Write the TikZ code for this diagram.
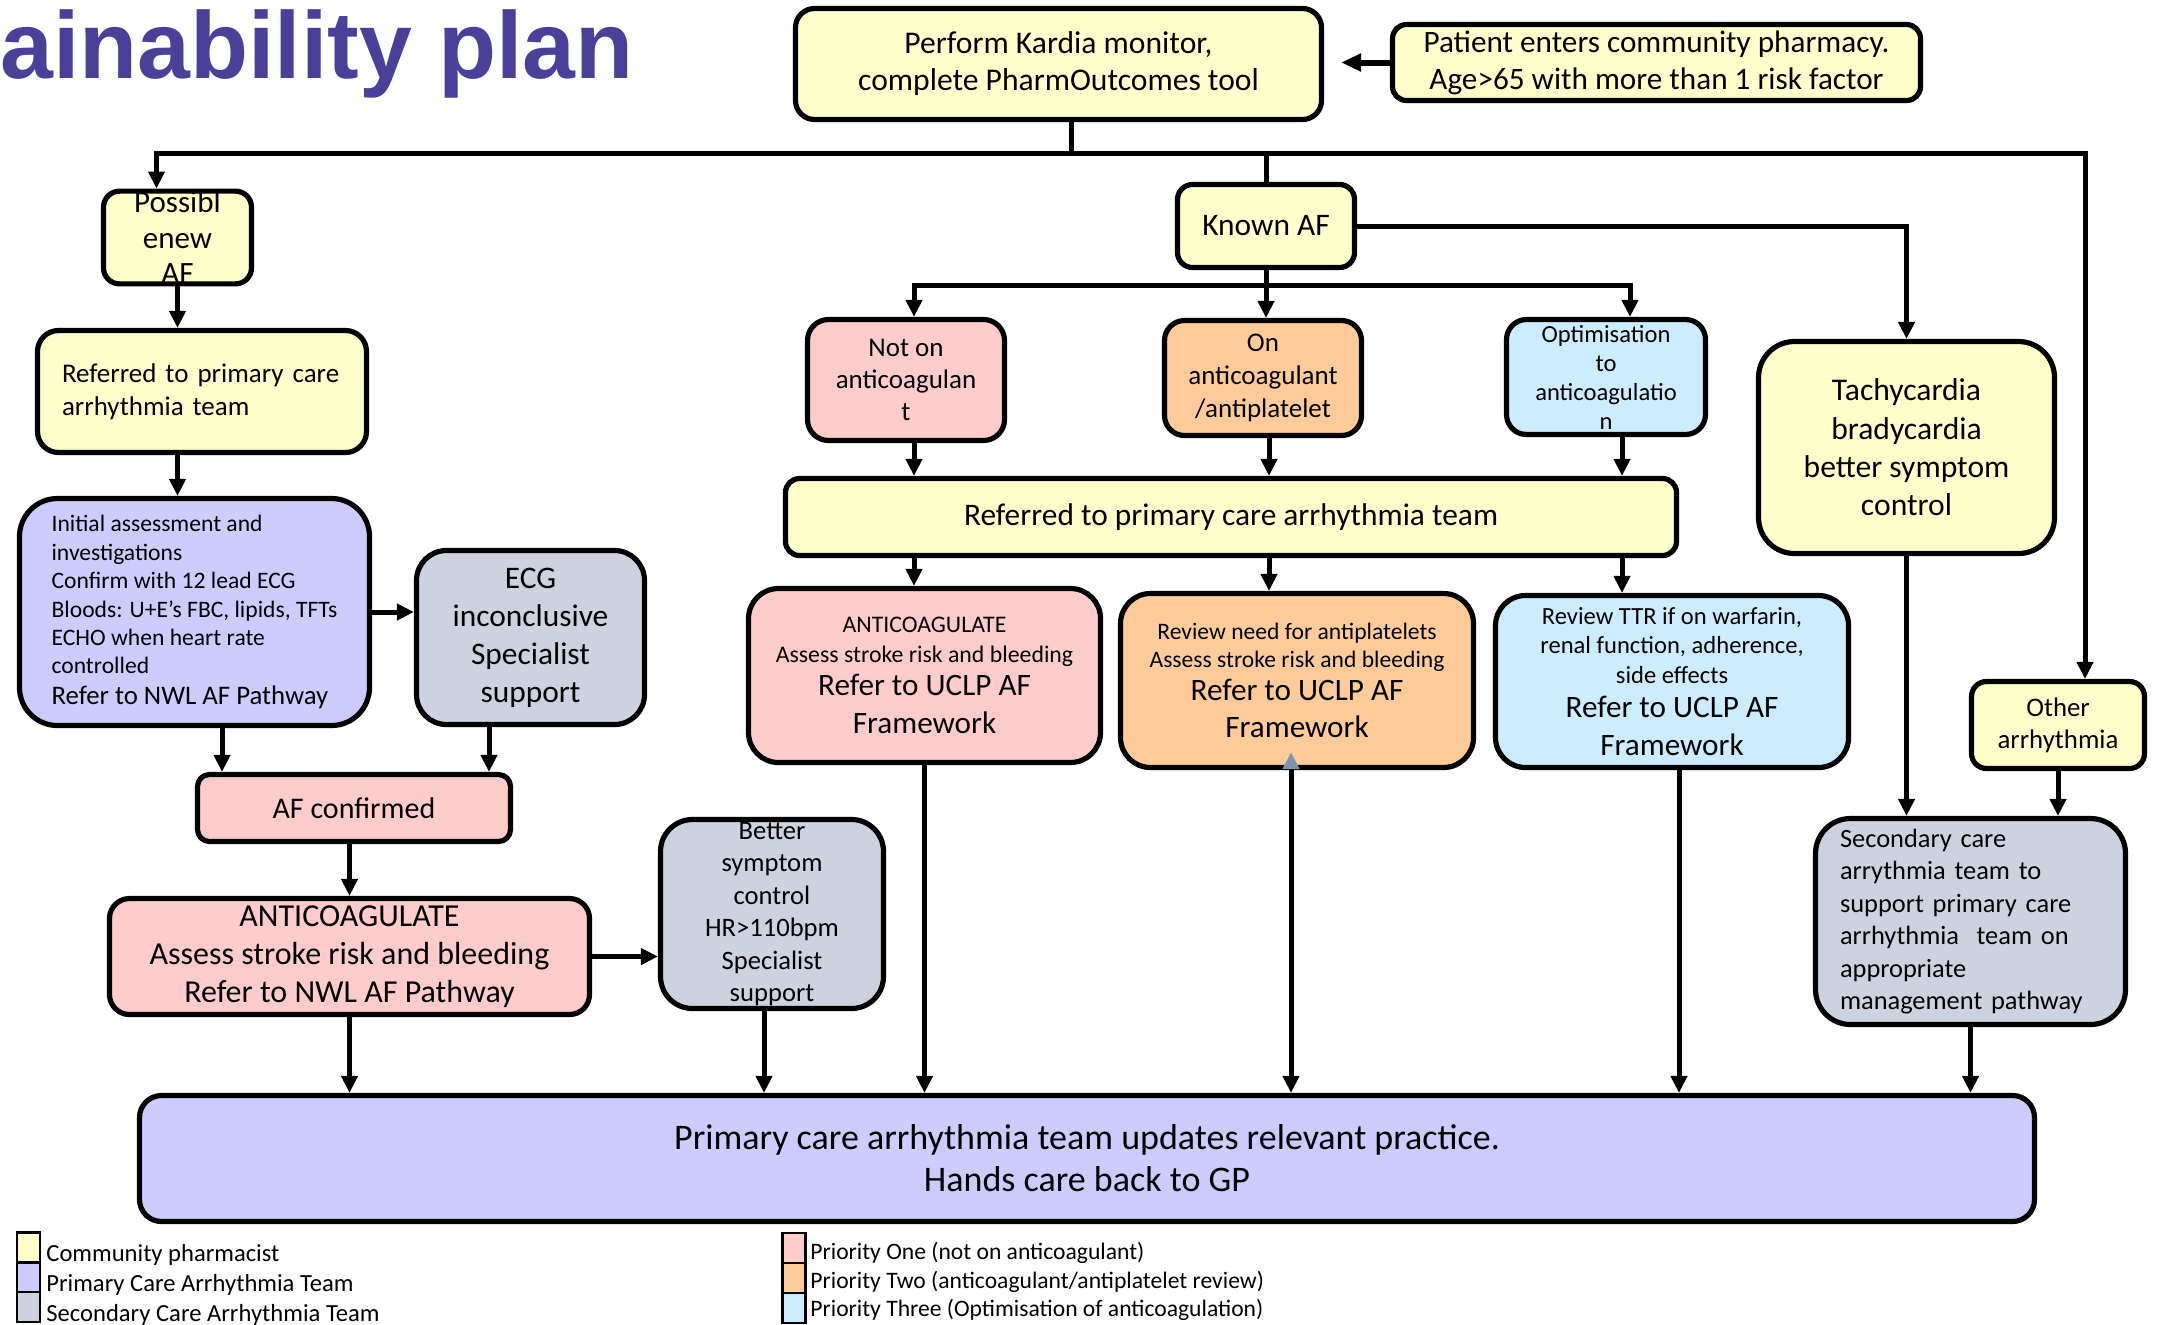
\documentclass[tikz,border=0pt]{standalone}
\usepackage{fontspec}
\setmainfont{Carlito}
\newfontfamily\titlefont{Liberation Sans}
\usepackage{tikz}
\usetikzlibrary{arrows.meta,positioning}
\definecolor{pharm}{RGB}{255,255,204}
\definecolor{primteam}{RGB}{204,204,255}
\definecolor{secteam}{RGB}{204,211,222}
\definecolor{prioone}{RGB}{255,204,204}
\definecolor{priotwo}{RGB}{255,204,153}
\definecolor{priothree}{RGB}{204,236,255}
\definecolor{titleblue}{RGB}{74,64,153}
\definecolor{tipgray}{RGB}{125,148,172}
\newcommand{\fs}[2]{\fontsize{#1}{#2}\selectfont}
\newcommand{\bigtxt}{\fontsize{15.6}{19}\selectfont}

\begin{document}
\begin{tikzpicture}[x=0.5pt, y=-0.5pt,
  box/.style={draw, line width=2.6pt, align=center, inner sep=0pt},
  con/.style={line width=2.5pt},
  arr/.style={line width=2.5pt, -{Triangle[width=8pt,length=8.5pt]}},
  legsq/.style={draw, line width=1.2pt, minimum width=11.5pt, minimum height=15pt, inner sep=0pt},
  legtext/.style={font=\fs{11.8}{14}, inner sep=0pt, anchor=base west}]
\useasboundingbox (0,0) rectangle (2161,1324);

\node[anchor=base west, inner sep=0pt, text=titleblue, font=\titlefont\bfseries\fs{47.5}{50}] (title) at (0,78) {ainability plan};

% community pharmacy
\node[box, fill=pharm, minimum width=263pt, minimum height=55.5pt, rounded corners=9.5pt, font=\fs{15.8}{18.5}] (kardia) at (1058.5,64) {Perform Kardia monitor,\\complete PharmOutcomes tool};
\node[box, fill=pharm, minimum width=264pt, minimum height=38pt, rounded corners=7pt, font=\fs{15.6}{18.5}] (patient) at (1656.5,62.5) {Patient enters community pharmacy.\\Age>65 with more than 1 risk factor};
\node[box, fill=pharm, minimum width=74pt, minimum height=46pt, rounded corners=8pt, font=\fs{15.5}{17.8}] (possible) at (177.5,237.5) {Possibl\\enew\\AF};
\node[box, fill=pharm, minimum width=88.5pt, minimum height=41.5pt, rounded corners=7.5pt, font=\fs{15.7}{18}] (knownaf) at (1266,226) {Known AF};

% new AF branch
\node[box, fill=pharm, minimum width=164.5pt, minimum height=61pt, rounded corners=10.5pt, align=left, text width=140pt, font=\fs{13.5}{16.5}] (leftref) at (202,391.5) {Referred to primary care\\arrhythmia team};
\node[box, fill=primteam, minimum width=175pt, minimum height=113.5pt, rounded corners=19pt, align=left, font=\fs{11.8}{14.2}] (initial) at (194.5,612) {Initial assessment and\\investigations\\Confirm with 12 lead ECG\\Bloods: U+E’s FBC, lipids, TFTs\\ECHO when heart rate\\controlled\\[1pt]\fs{13.4}{15}Refer to NWL AF Pathway};
\node[box, fill=secteam, minimum width=114pt, minimum height=87pt, rounded corners=15pt, font=\fs{15.7}{19}] (ecg) at (530.5,637.5) {ECG\\inconclusive\\Specialist\\support};
\node[box, fill=prioone, minimum width=156.5pt, minimum height=33.5pt, rounded corners=6pt, font=\fs{15}{18}] (afconf) at (354,808) {AF confirmed};
\node[box, fill=prioone, minimum width=240pt, minimum height=58pt, rounded corners=10pt, font=\fs{16}{19}] (anticoag) at (349.5,956.5) {ANTICOAGULATE\\Assess stroke risk and bleeding\\Refer to NWL AF Pathway};
\node[box, fill=secteam, minimum width=111.5pt, minimum height=94.5pt, rounded corners=16pt, font=\fs{13.3}{16.2}] (better) at (772,914) {Better\\symptom\\control\\HR>110bpm\\Specialist\\support};

% known AF branch
\node[box, fill=prioone, minimum width=98.5pt, minimum height=60.5pt, rounded corners=10.5pt, font=\fs{13.5}{16}] (notanti) at (906,380) {Not on\\anticoagulan\\t};
\node[box, fill=priotwo, minimum width=98.5pt, minimum height=57.5pt, rounded corners=10pt, font=\fs{13.5}{16.5}] (onanti) at (1263,378) {On\\anticoagulant\\/antiplatelet};
\node[box, fill=priothree, minimum width=99.5pt, minimum height=57.5pt, rounded corners=10pt, font=\fs{12.3}{14.5}] (optim) at (1606,377) {Optimisation\\to\\anticoagulatio\\n};
\node[box, fill=pharm, minimum width=445.5pt, minimum height=38.5pt, rounded corners=7pt, font=\fs{15.7}{18}] (wideref) at (1231,517) {Referred to primary care arrhythmia team};
\node[box, fill=prioone, minimum width=176pt, minimum height=87pt, rounded corners=15pt, font=\fs{11.9}{15}] (prione) at (924.5,675.5) {ANTICOAGULATE\\Assess stroke risk and bleeding\\[1.5pt]\bigtxt Refer to UCLP AF\\[4pt]\bigtxt Framework};
\node[box, fill=priotwo, minimum width=176.5pt, minimum height=87pt, rounded corners=15pt, font=\fs{11.8}{14}] (pritwo) at (1297,680.5) {Review need for antiplatelets\\Assess stroke risk and bleeding\\[2.5pt]\bigtxt Refer to UCLP AF\\[4.5pt]\bigtxt Framework};
\node[box, fill=priothree, minimum width=176.5pt, minimum height=86pt, rounded corners=15pt, font=\fs{12.3}{14.7}] (prithree) at (1672,681.5) {Review TTR if on warfarin,\\renal function, adherence,\\side effects\\[2.5pt]\bigtxt Refer to UCLP AF\\[4pt]\bigtxt Framework};

% other rhythms
\node[box, fill=pharm, minimum width=148pt, minimum height=106pt, rounded corners=18pt, font=\fs{15.8}{19.2}] (tachy) at (1906.5,447.5) {Tachycardia\\bradycardia\\better symptom\\control};
\node[box, fill=pharm, minimum width=86.5pt, minimum height=43.5pt, rounded corners=7.5pt, font=\fs{13.4}{16}] (other) at (2058,725) {Other\\arrhythmia};
\node[box, fill=secteam, minimum width=155pt, minimum height=103pt, rounded corners=17.5pt, align=left, text width=130.5pt, font=\fs{13.2}{16.2}] (second) at (1970.5,921.5) {Secondary care\\arrythmia team to\\support primary care\\arrhythmia~ team on\\appropriate\\management pathway};

\node[box, fill=primteam, minimum width=947.5pt, minimum height=63pt, rounded corners=11pt, font=\fs{18}{21}] (bottom) at (1087,1158.5) {Primary care arrhythmia team updates relevant practice.\\Hands care back to GP};

% connectors
\coordinate (bus) at (1071,153);
\coordinate (split) at (1266,285);
\coordinate (c1) at (914,0);
\coordinate (c2) at (1269,0);
\coordinate (c3) at (1622,0);
\coordinate (c4) at (222,0);
\coordinate (c5) at (489,0);
\coordinate (c6) at (764,0);
\coordinate (c7) at (1291,0);
\coordinate (c8) at (1679,0);

\draw[line width=3pt, -{Triangle[width=8.5pt,length=10pt]}, shorten >=8.5pt] (patient.west) -- (patient.west -| kardia.east);
\draw[con] (kardia.south -| bus) -- (bus);
\draw[arr] (bus) -| ([xshift=-10.5pt]possible.north);
\draw[arr] (bus) -| ([xshift=13.5pt]other.north);
\draw[con] (bus -| knownaf) -- (knownaf);

\draw[con] (knownaf) -- (split);
\draw[arr] (split) -| (notanti.north -| c1);
\draw[arr] (split) -- (split |- onanti.north);
\draw[arr] (split) -| ([xshift=12pt]optim.north);
\draw[arr] (knownaf) -| (tachy);

\draw[arr] (notanti.south -| c1) -- (wideref.north -| c1);
\draw[arr] (onanti.south -| c2) -- (wideref.north -| c2);
\draw[arr] (optim.south -| c3) -- (wideref.north -| c3);
\draw[arr] (wideref.south -| c1) -- (prione.north -| c1);
\draw[arr] (wideref.south -| c2) -- (pritwo.north -| c2);
\draw[arr] (wideref.south -| c3) -- (prithree.north -| c3);

\draw[arr] (possible.south) -- (possible.south |- leftref.north);
\draw[arr] (leftref.south -| possible.south) -- (initial.north -| possible.south);
\draw[arr] (initial.east) -- (initial.east -| ecg.west);
\draw[arr] (initial.south -| c4) -- (afconf.north -| c4);
\draw[arr] (ecg.south -| c5) -- (afconf.north -| c5);
\draw[arr] (afconf.south -| anticoag) -- (anticoag.north);
\draw[arr] (anticoag.east) -- (anticoag.east -| better.west);

\draw[arr] (anticoag.south) -- (anticoag.south |- bottom.north);
\draw[arr] (better.south -| c6) -- (bottom.north -| c6);
\draw[arr] (prione.south) -- (prione.south |- bottom.north);
\draw[con, {Triangle[width=8pt,length=8.5pt,color=tipgray]}-{Triangle[width=8pt,length=8.5pt]}] ([yshift=9pt]pritwo.south -| c7) -- (bottom.north -| c7);
\draw[arr] (prithree.south -| c8) -- (bottom.north -| c8);
\draw[arr] (tachy) -- (tachy |- second.north);
\draw[arr] (other) -- (other |- second.north);
\draw[arr] (second) -- (second |- bottom.north);

% legend
\node[legsq, fill=pharm] (lg1) at (28.5,1247.5) {};
\node[legsq, fill=primteam] (lg2) at (28.5,1277.5) {};
\node[legsq, fill=secteam] (lg3) at (28.5,1307) {};
\node[legtext, font=\fs{12.3}{14}] (lgtext1) at (46,1261) {Community pharmacist};
\node[legtext, font=\fs{12.3}{14}] (lgtext2) at (46,1291) {Primary Care Arrhythmia Team};
\node[legtext, font=\fs{12.3}{14}] (lgtext3) at (46,1321) {Secondary Care Arrhythmia Team};
\node[legsq, fill=prioone] (lg4) at (794,1248) {};
\node[legsq, fill=priotwo] (lg5) at (794,1278) {};
\node[legsq, fill=priothree] (lg6) at (794,1308) {};
\node[legtext] (lgtext4) at (810,1259) {Priority One (not on anticoagulant)};
\node[legtext] (lgtext5) at (810,1288) {Priority Two (anticoagulant/antiplatelet review)};
\node[legtext] (lgtext6) at (810,1316) {Priority Three (Optimisation of anticoagulation)};
\end{tikzpicture}
\end{document}
